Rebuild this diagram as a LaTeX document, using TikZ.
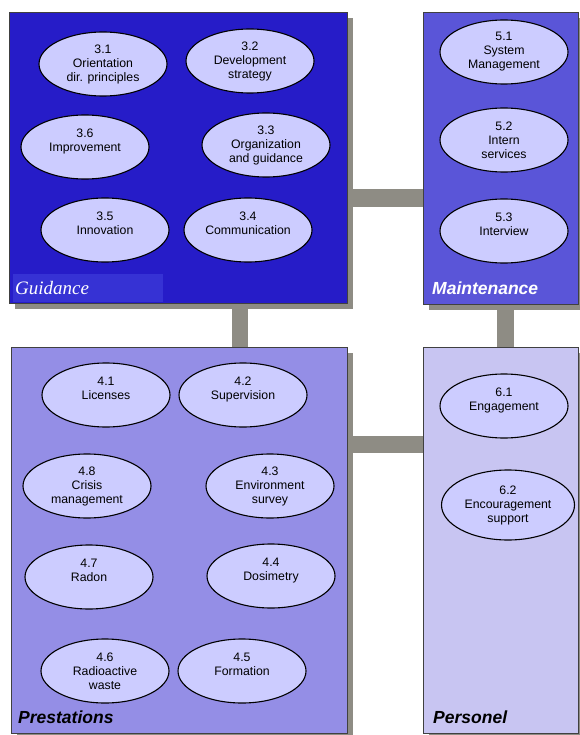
\documentclass[tikz,border=0pt]{standalone}
\usepackage{fontspec}
\setsansfont{Liberation Sans}
\newfontfamily\labelserif{Liberation Serif}
\usetikzlibrary{
  shapes.geometric,
  shadows,
  backgrounds,
  positioning,
}
\definecolor{gd_blue}{RGB}{38,28,200}
\definecolor{gd_band}{RGB}{54,50,212}
\definecolor{mt_blue}{RGB}{90,85,216}
\definecolor{pr_blue}{RGB}{148,142,230}
\definecolor{ps_blue}{RGB}{200,197,242}
\definecolor{el_fill}{RGB}{204,204,255}
\definecolor{bar_gray}{RGB}{142,140,132}
\tikzset{
  area/.style={rectangle, draw=black!75, line width=0.6pt, anchor=north west, inner sep=0pt,
    general shadow={fill=bar_gray, shadow xshift=6pt, shadow yshift=-6pt}},
  task/.style={ellipse, draw=black, line width=1.1pt, fill=el_fill, minimum width=128pt,
    minimum height=64pt, inner sep=0pt, align=center,
    font=\sffamily\fontsize{12.3}{14}\selectfont,
    execute at begin node={\rule{0pt}{13pt}}},
  bar/.style={draw=bar_gray, line width=18pt},
  arealabel/.style={anchor=base west, inner sep=0pt,
    font=\sffamily\bfseries\itshape\fontsize{17.5}{20}\selectfont},
}

\begin{document}
\begin{tikzpicture}[x=1pt, y=-1pt]
    \useasboundingbox (0,0) rectangle (579,735);

    % the four areas
    \node[area, fill=gd_blue, minimum width=338pt, minimum height=291pt] (guid) at (9,12) {};
    \node[area, fill=mt_blue, minimum width=155pt, minimum height=292pt] (maint) at (423,12) {};
    \node[area, fill=pr_blue, minimum width=336pt, minimum height=386pt] (prest) at (11,347) {};
    \node[area, fill=ps_blue, minimum width=155pt, minimum height=386pt] (pers) at (423,347) {};

    % gray bars between the areas, behind everything
    \begin{scope}[on background layer]
      \coordinate (gm) at ([yshift=-40pt]guid.east);
      \draw[bar] (gm) -- (gm -| maint.west);
      \coordinate (gp) at ([xshift=62pt]guid.south);
      \draw[bar, line width=16pt] (gp) -- (gp |- prest.north);
      \coordinate (mp) at ([xshift=5pt]maint.south);
      \draw[bar, line width=17pt] (mp) -- (mp |- pers.north);
      \coordinate (pp) at ([yshift=95.5pt]prest.east);
      \draw[bar, line width=17pt] (pp) -- (pp -| pers.west);
    \end{scope}

    % area labels
    \node[anchor=south west, fill=gd_band, minimum height=28pt, text width=146pt,
      inner sep=2pt, align=left, text=white,
      font=\labelserif\itshape\fontsize{19}{22}\selectfont]
      (guidlbl) at ([xshift=4pt, yshift=1pt]guid.south west) {Guidance};
    \node[arealabel, text=white] (maintlbl) at ([xshift=9pt, yshift=10pt]maint.south west) {Maintenance};
    \node[arealabel] (prestlbl) at ([xshift=7pt, yshift=10pt]prest.south west) {Prestations};
    \node[arealabel] (perslbl) at ([xshift=10pt, yshift=10pt]pers.south west) {Personel};

    % the tasks
    \foreach \x/\y/\name/\txt in {
      103/64/e31/{3.1\\Orientation\\dir. principles},
      250/61/e32/{3.2\\Development\\strategy},
      85/147/e36/{3.6\\Improvement\\\mbox{}},
      266/145/e33/{3.3\\Organization\\and guidance},
      105/230/e35/{3.5\\Innovation\\\mbox{}},
      248/230/e34/{3.4\\Communication\\\mbox{}},
      504/52/e51/{5.1\\System\\Management},
      504/140/e52/{5.2\\Intern\\services},
      504/231/e53/{5.3\\Interview\\\mbox{}},
      106/395/e41/{4.1\\Licenses\\\mbox{}},
      243/395/e42/{4.2\\Supervision\\\mbox{}},
      87/486/e48/{4.8\\Crisis\\management},
      270/486/e43/{4.3\\Environment\\survey},
      89/577/e47/{4.7\\Radon\\\mbox{}},
      271/576/e44/{4.4\\Dosimetry\\\mbox{}},
      105/671/e46/{4.6\\Radioactive\\waste},
      242/671/e45/{4.5\\Formation\\\mbox{}},
      504/406/e61/{6.1\\Engagement\\\mbox{}}} {
      \node[task] (\name) at (\x,\y) {\txt};
    }
    \node[task, minimum width=133pt, minimum height=70pt] (e62) at (508,505) {6.2\\Encouragement\\support};
\end{tikzpicture}
\end{document}
